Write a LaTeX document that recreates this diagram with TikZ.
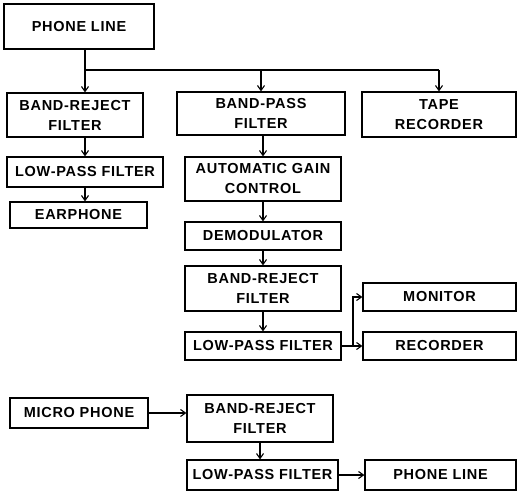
\documentclass[tikz,border=0pt]{standalone}
\usepackage{fontspec}
\setmainfont{Liberation Sans}
\usepackage{tikz}
\usetikzlibrary{arrows.meta}
\newfontfamily\lettering[LetterSpace=5]{Liberation Sans}
\tikzset{
  block/.style={draw, line width=1.1pt, align=center, inner sep=1pt,
    font=\lettering\bfseries\fontsize{14.5}{20}\selectfont},
  wire/.style={draw, line width=1.1pt},
  flow/.style={draw, line width=1.1pt, -{Straight Barb[length=5pt,width=7pt]}}
}
\begin{document}
\begin{tikzpicture}[x=1pt, y=-1pt]
  \useasboundingbox (0,0) rectangle (518,494);
  % receive side
  \node[block, minimum width=150pt, minimum height=45pt] (pl1) at (79,26.5) {PHONE LINE};
  \node[block, minimum width=136pt, minimum height=44pt] (brf1) at (75,115) {BAND-REJECT\\FILTER};
  \node[block, minimum width=156pt, minimum height=30pt] (lpf1) at (85,172) {LOW-PASS FILTER};
  \node[block, minimum width=137pt, minimum height=26pt] (ear) at (78.5,215) {EARPHONE};
  \node[block, minimum width=168pt, minimum height=43pt] (bpf) at (261,113.5) {BAND-PASS\\FILTER};
  \node[block, minimum width=154pt, minimum height=45pt] (tape) at (439,114.5) {TAPE\\RECORDER};
  \node[block, minimum width=156pt, minimum height=44pt] (agc) at (263,179) {AUTOMATIC GAIN\\CONTROL};
  \node[block, minimum width=156pt, minimum height=28pt] (demod) at (263,236) {DEMODULATOR};
  \node[block, minimum width=156pt, minimum height=45pt] (brf2) at (263,288.5) {BAND-REJECT\\FILTER};
  \node[block, minimum width=156pt, minimum height=28pt] (lpf2) at (263,346) {LOW-PASS FILTER};
  \node[block, minimum width=153pt, minimum height=28pt] (mon) at (439.5,297) {MONITOR};
  \node[block, minimum width=153pt, minimum height=28pt] (rec) at (439.5,346) {RECORDER};
  % transmit side
  \node[block, minimum width=138pt, minimum height=30pt] (mic) at (79,413) {MICRO PHONE};
  \node[block, minimum width=146pt, minimum height=47pt] (brf3) at (260,418.5) {BAND-REJECT\\FILTER};
  \node[block, minimum width=151pt, minimum height=30pt] (lpf3) at (262.5,475) {LOW-PASS FILTER};
  \node[block, minimum width=151pt, minimum height=30pt] (pl2) at (440.5,475) {PHONE LINE};

  \coordinate (bus) at (85,70);
  \coordinate (split) at (353,346);
  \draw[wire] (pl1.south -| bus) -- (bus) -- (bus -| tape);
  \draw[flow] (bus) -- (bus |- brf1.north);
  \draw[flow] (bus -| bpf) -- (bpf.north);
  \draw[flow] (bus -| tape) -- (tape.north);
  \draw[flow] (brf1.south -| lpf1) -- (lpf1.north);
  \draw[flow] (lpf1.south) -- (lpf1.south |- ear.north);
  \draw[flow] (bpf.south -| agc) -- (agc.north);
  \draw[flow] (agc) -- (demod);
  \draw[flow] (demod) -- (brf2);
  \draw[flow] (brf2) -- (lpf2);
  \draw[flow] (lpf2.east) -- (rec.west);
  \draw[flow] (split) |- (mon.west);
  \draw[flow] (mic.east) -- (mic.east -| brf3.west);
  \draw[flow] (brf3.south) -- (brf3.south |- lpf3.north);
  \draw[flow] (lpf3.east) -- (pl2.west);
\end{tikzpicture}
\end{document}
